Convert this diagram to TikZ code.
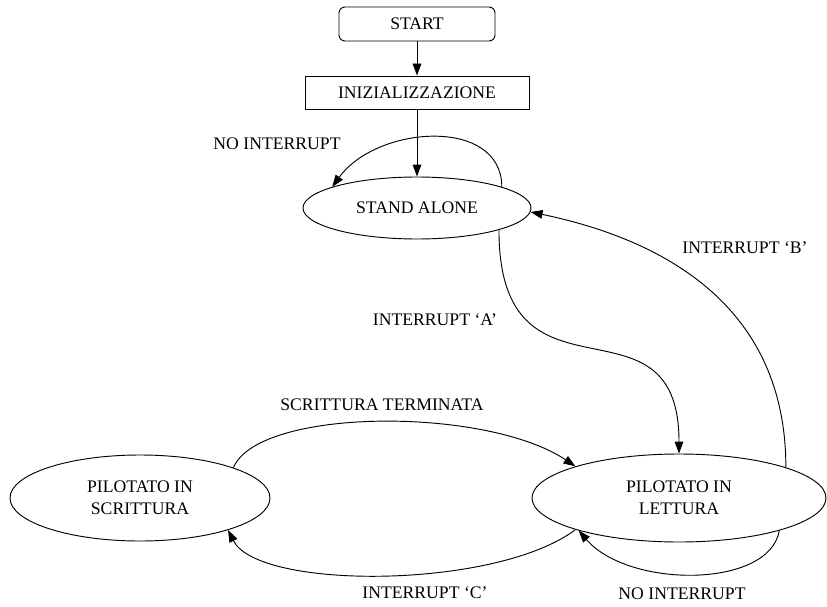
\documentclass[tikz,border=0pt]{standalone}
\usepackage{fontspec}
\setmainfont{Liberation Serif}
\usetikzlibrary{arrows.meta,shapes.geometric}

\begin{document}
\begin{tikzpicture}[x=0.75pt,y=-0.75pt,line width=0.7pt,
        every node/.style={font=\fontsize{13.25}{16.5}\selectfont},
        stato/.style={draw,ellipse,inner sep=0pt,align=center},
        freccia/.style={-{Triangle[length=9pt,width=6.5pt]}}]
    \useasboundingbox (0,0) rectangle (827,606);
    %% start and init
    \node[draw,rounded corners=4.5pt,minimum width=117pt,minimum height=25.5pt] (start) at (417,24) {START};
    \node[draw,minimum width=168pt,minimum height=24.75pt] (init) at (417,92.5) {INIZIALIZZAZIONE};
    %% states
    \node[stato,minimum width=171pt,minimum height=46.5pt] (standalone) at (417,208) {STAND ALONE};
    \node[stato,minimum width=195pt,minimum height=64.5pt] (scrittura) at (140,498) {PILOTATO IN\\SCRITTURA};
    \node[stato,minimum width=220.5pt,minimum height=66pt] (lettura) at (679,498) {PILOTATO IN\\LETTURA};
    %% labels
    \node (noint1) at (277,144) {NO INTERRUPT};
    \node (intA) at (435,320) {INTERRUPT ‘A’};
    \node (intB) at (745,248) {INTERRUPT ‘B’};
    \node (fine) at (382,405) {SCRITTURA TERMINATA};
    \node (intC) at (425,593) {INTERRUPT ‘C’};
    \node (noint2) at (682,594) {NO INTERRUPT};
    %% arrows
    \draw[freccia] (start) -- (init);
    \draw[freccia] (init) -- (standalone);
    \draw[freccia] (standalone.14) .. controls +(0,-70) and +(45,-62) .. (standalone.166);
    \draw[freccia] (standalone.-15) .. controls +(0,190) and +(0,-170) .. (lettura.north);
    \draw[freccia] (lettura.16) .. controls +(0,-170) and +(120,25) .. (standalone.-2);
    \draw[freccia] (scrittura.18) .. controls +(25,-60) and +(-90,-60) .. (lettura.163);
    \draw[freccia] (lettura.197) .. controls +(-80,60) and +(30,60) .. (scrittura.-20);
    \draw[freccia] (lettura.-18) .. controls +(-10,58) and +(50,58) .. (lettura.198);
\end{tikzpicture}
\end{document}
